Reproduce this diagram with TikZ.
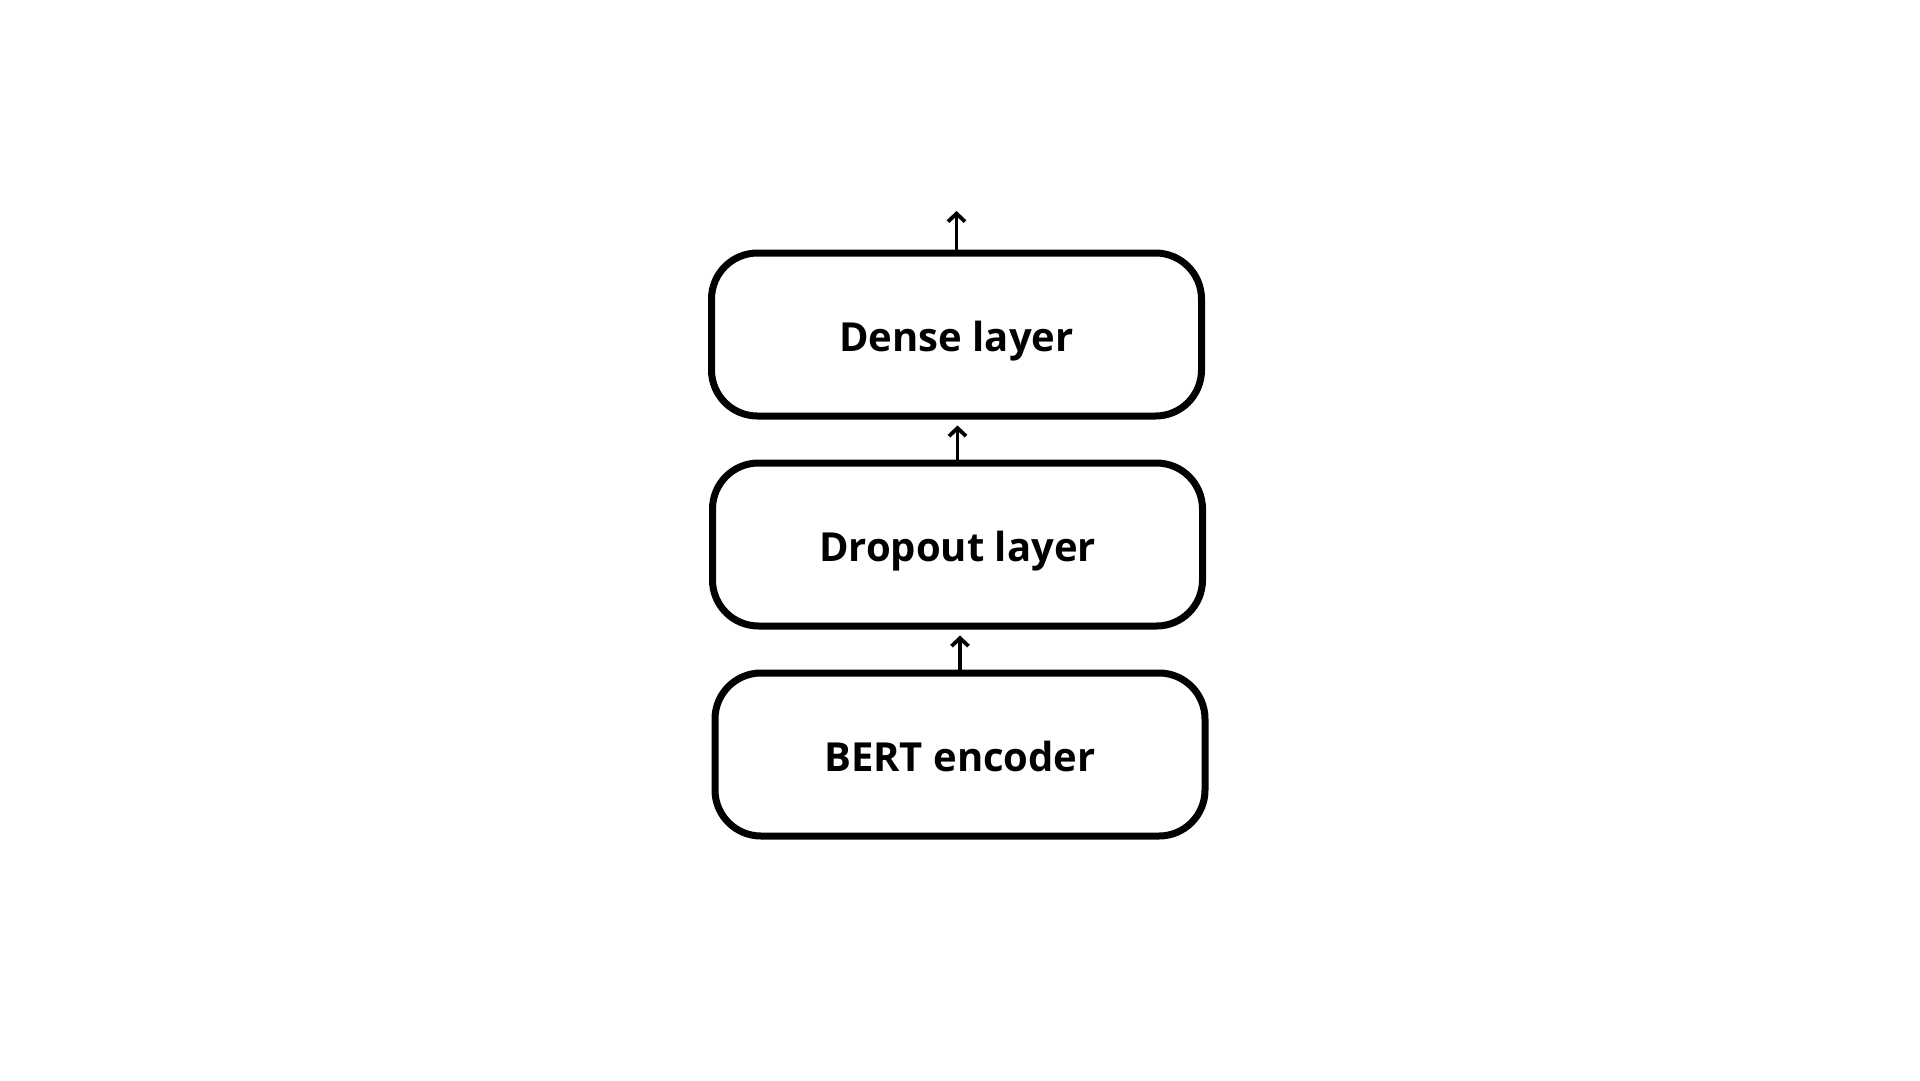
\documentclass[tikz,border=0pt]{standalone}
\usepackage{fontspec}
\setmainfont{Open Sans}
\usetikzlibrary{arrows.meta}
\begin{document}
\begin{tikzpicture}[x=1pt,y=-1pt,
    layer/.style={draw,line width=7pt,rounded corners=46pt,minimum width=490pt,minimum height=163pt,text height=34pt,text depth=0pt,font=\fontsize{40}{46}\selectfont\bfseries},
    arr/.style={-{Straight Barb[length=8pt,width=17pt]},line width=3.8pt}]
    \useasboundingbox (0,0) rectangle (1920,1080);
    \node[layer] (0) at (956.5,334.5) {Dense layer};
    \node[layer] (1) at (957.5,544.5) {Dropout layer};
    \node[layer] (2) at (960,754.5) {BERT encoder};
    \coordinate (3) at (954,211);
    
    \draw[arr,shorten >=6pt] (2.north) -- (2.north |- 1.south);
    \draw[arr,shorten >=6pt] (1.north) -- (1.north |- 0.south);
    \draw[arr] (0.north) -- (0.north |- 3);
\end{tikzpicture}
\end{document}
